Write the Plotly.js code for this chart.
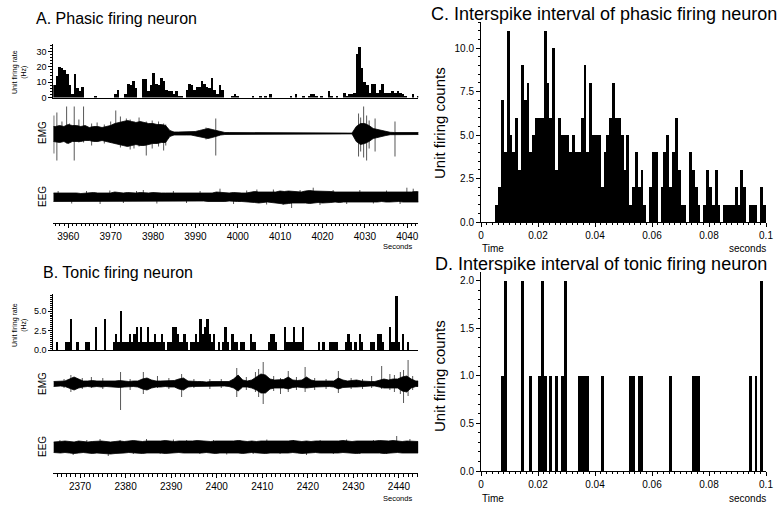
<!DOCTYPE html>
<html><head><meta charset="utf-8">
<script src="https://cdn.plot.ly/plotly-3.0.1.min.js"></script>
<style>html,body{margin:0;padding:0;background:#fff}#chart{width:783px;height:506px}</style>
</head><body><div id="chart"></div>
<script>
// ---------- Panel A: phasic firing neuron ----------
const histA_start = 3956.46, histA_bin = 0.6;
const histA_rate = [8,14,20,19,18,15,8,2,15,6,4,7, 0,0,0,0,1,0,0,0,0,0,0,0, 2,5,0,0,2,9,8,11,6,0,0,12,
  12,4,8,16,9,8,13,11,5,4,4,2, 4,1,1,0,5,9,8,5,7,7,11,9, 7,6,13,5,2,8,5,0,0,0,1,2, 1,0,0,0,0,0,1,0,0,1,0,1,
  0,2,0,0,0,0,0,0,0,1,0,2, 0,0,1,0,1,2,2,1,0,1,0,0, 4,1,0,1,0,0,3,1,2,2,3,28, 33,19,10,8,3,9,9,3,5,9,3,3,
  3,4,3,4,3,2,1,0,0,2,0,1];
const emgA_start = 3956.46, emgA_step = 1;
const emgA_hi = [7,8,7,9,8,8,7,8,6,7,7,6,7,8, 10,11,12,13,12,11,12,11,10,10,9,9,8, 3,1.5,1.5,1.5,1.5,1.5,2, 3,4,5,4,3,1.5,
  1,1,1,1,1,1,1,1,1,0.8,0.8, 0.4,0.4,0.4,0.4,0.4,0.4,0.4,0.4,0.4,0.4,0.4,0.4,0.4,0.4,0.4,0.4,0.4,0.4,0.4,0.4,
  7,10,10,8,5,4,3,2, 1.2,1,1,1.5,1,1,1,1];
const emgA_lo = [8,9,8,10,8,8,8,7,7,8,8,7,8,9, 10,11,12,13,12,11,12,12,11,10,10,9,9, 3,1.5,1.5,1.5,1.5,1.5,2, 3,4,5,4,3,1.5,
  1,1,1,1,1,1,1,1,1,0.8,0.8, 0.4,0.4,0.4,0.4,0.4,0.4,0.4,0.4,0.4,0.4,0.4,0.4,0.4,0.4,0.4,0.4,0.4,0.4,0.4,0.4,
  8,11,10,8,5,4,3,2, 1.2,1,1,1.5,1,1,1,1];
const emgA_spikeT  = [3956.6,3957.3,3958.5,3959.6,3960.3,3961.4,3962.5,3963.6,3965.5,3966.8,3968.5,3970.0,3971.2,3972.3,
  3973.7,3974.6,3975.5,3976.7,3978.4,3979.8,3981.3,3982.5,3983.0,3992.5,3994.8,4028.5,4029.0,4029.7,4030.4,4031.0,4032.4,4037.1];
const emgA_spikeUp = [18,21,12,27,10,27,14,27,10,11,9,12,23,17,15,14,12,16,12,13,12,10,9,6,15,20,16,27,18,13,15,12];
const emgA_spikeDn = [20,27,6,10,8,27,9,9,12,8,10,9,10,14,12,16,15,13,22,15,13,17,12,6,22,23,18,24,27,15,18,23];
const eegA_start = 3956.46, eegA_step = 1;
const eegA_hi = [4,4.5,4,4,4.5,4,3.5,4,4,4.5, 4,4,4.5,4,5,4.5,4,4.5,4,4, 4.5,4,4,4.5,4,4,4,4,4,4.5, 4,4,4.5,4,4,4.5,4,4,5,4.5,
  4,4,4.5,4,4,4,5,5.5,5,5, 5.5,5,5,6,5.5,6,5.5,5,5,6, 6.5,6,6,5.5,6,5.5,5,5,5,5, 4.5,4.5,4.5,5,4.5,4.5,5,4.5,4.5,5, 4.5,5,5,4.5,5,5.5,5];
const eegA_lo = [4.5,4,4.5,4.5,4,4.5,4,4.5,4,4, 4.5,4.5,4,4.5,4.5,4,4.5,4,4.5,4.5, 4,4.5,4.5,4,4.5,4,4.5,4,4.5,4, 4.5,4.5,4,4.5,4,4,4.5,4.5,5,4.5,
  4.5,4,4,4.5,4.5,5,5,5.5,6,5.5, 5,5.5,6,6.5,7,6.5,6,5.5,6,6, 6.5,6,5.5,6,6,5.5,5,5.5,5,5, 5,4.5,5,5,4.5,5,5,4.5,5,5, 5,4.5,5,5,5.5,5,5];
const eegA_spikeT  = [3957.6,3960.8,3964.3,3967.5,3969.8,3973.0,3976.1,3977.7,3980.9,3984.8,3987.9,3991.1,3995.8,3999.0,4002.1,
  4004.5,4006.8,4008.4,4010.7,4012.7,4014.7,4017.8,4019.4,4022.5,4025.7,4028.8,4032.0,4035.1,4038.3,4039.9,4041.4];
const eegA_spikeUp = [6,4,6,4,6.5,4,6,7,4,6,4,6,8.3,4,6.5,7.5,4,7.5,4,4,7,9.3,4,7,4,7,4,6.5,4,9.3,8.3];
const eegA_spikeDn = [4,6.5,4,7,4,6,4,4,6.5,4,6,4,4,7,4,4,7.5,4,8,11,4,4,8,4,7,4,6.5,4,7,4,4];
const axisA_ticks = [3960,3970,3980,3990,4000,4010,4020,4030,4040];

// ---------- Panel B: tonic firing neuron ----------
const histB_start = 2364.2, histB_bin = 0.5;
const histB_rate = [0,1,0,0,0,1,1,4,0,0, 1,0,0,0,1,1,0,0,3,0, 0,0,4,0,0,0,1,2,1,5, 1,1,1,2,1,2,3,1,3,1,
  1,3,1,1,2,1,1,2,1,0, 1,1,3,3,2,1,1,2,1,0, 1,1,2,1,4,2,3,4,2,1, 2,0,1,0,1,3,1,0,2,1,
  1,0,1,1,0,0,2,1,1,0, 0,0,0,0,1,2,2,1,0,0, 0,3,1,1,1,3,1,1,1,3, 0,0,0,0,0,0,1,0,1,0,
  0,1,1,1,1,0,0,0,1,2, 1,0,1,0,2,1,0,0,0,1, 1,0,2,2,1,0,0,3,1,1, 7,1,0,2,0,1,0,0];
const emgB_start = 2364.2, emgB_step = 1;
const emgB_hi = [2.5,2.5,3,5,7,5,3,3,3.5,3, 3,3,2.5,3,3.5,3,2.5,3,3,5, 6,4,3,3,3,3,3.5,5,6,3, 2.5,2.5,2.5,2,2.5,2.5,2,2.5,2.5,5,
  9,4,3,4,7,10,9,5,4,4, 4.5,7,4,3.5,4,7,4,3,3,2.5, 2.5,3,6,4,3,3.5,4,3,2.5,2.5, 2.5,4,5,4,5,5,7,8,5,3];
const emgB_lo = [2.5,2,2.5,4,6,4,3,2.5,3,2.5, 3,2.5,3,3,3.5,3,2.5,2.5,3,5, 6,4,3,3,2.5,3,3,5,6,3, 2.5,2,2.5,2,2,2.5,2,2,2.5,4,
  7,3,3,4,6,9,9,5,4,4, 4,5,3.5,3,3.5,4,3.5,3,2.5,2.5, 2.5,3,5,3.5,3,3,3,3,2.5,2, 2,3,4,4,4,4,7,8,4,2.5];
const emgB_spikeT  = [2366.5,2368.0,2370.5,2372.5,2375.0,2378.9,2381.0,2383.9,2387.0,2389.5,2392.3,2395.0,2398.5,2401.0,2404.4,
  2406.5,2408.5,2409.2,2410.2,2412.5,2414.0,2415.7,2417.5,2419.4,2421.5,2424.0,2426.7,2429.5,2432.0,2434.0,2436.2,2438.0,
  2439.0,2440.3,2441.0,2442.0,2443.0];
const emgB_spikeUp = [5,9,6,7,6,12,5,12,8,6,10,5,5,5,16,7,12,15,22,8,6,13,7,17,6,5,13,6,5,8,18,10,9,12,14,24,8];
const emgB_spikeDn = [4,8,5,4,5,26,6,10,4,5,13,4,5,4,13,6,8,13,20,7,10,8,6,8,6,5,9,5,5,4,5,6,8,10,19,12,6];
const eegB_start = 2364.2, eegB_step = 1;
const eegB_hi = [5,5.5,6,5.5,5,6,5.5,5,5.5,6, 6,5.5,5,5.5,6,5.5,6,6.5,6,5.5, 6,6,5.5,6,6.5,6,5.5,6,6,5.5, 6,6.5,6,6,5.5,6,6,5.5,6,6,
  6.5,6,5.5,6,5.5,6,6,5.5,6,5.5, 5.5,6,6.5,6,5.5,6,5.5,6,6,5.5, 5.5,6,6,6.5,6,5.5,6,6,5.5,6, 6,6.5,6,6,6.5,6,5.5,6,6,5.5];
const eegB_lo = [5.5,6,5.5,6,6.5,6,5.5,6,6.5,6, 6,6.5,7,6.5,6,6,5.5,6,6,6.5, 6,5.5,6,6,6.5,6,6,5.5,6,6, 6.5,6,6,5.5,6,6.5,6,6,5.5,6,
  6,6.5,6,5.5,6,6,6.5,6,6,5.5, 6,6,5.5,6,6.5,6,6,5.5,6,6, 6.5,6,6,5.5,6,6,6.5,6,6,5.5, 6,6,6.5,6,6,5.5,6,6.5,6,6];
const eegB_spikeT  = [2365.6,2368.5,2371.5,2374.4,2376.2,2378.8,2381.7,2384.6,2387.6,2390.5,2393.4,2396.3,2399.3,2402.2,
  2405.1,2408.0,2411.0,2413.9,2416.8,2419.7,2422.7,2425.6,2428.5,2431.4,2434.4,2437.3,2439.5,2442.4];
const eegB_spikeUp = [7,5,7,8,5,7,5,8,5,7.5,7,5,7,5,7,5,7.5,5,7,5,7,5,7.5,5,7,5,11,8];
const eegB_spikeDn = [5,8,5,5,9,5,7,5,7,5,5,7,5,7.5,5,7,5,7,5,8,5,7,5,7,5,7,5,5];

// ---------- Panels C / D: interspike interval histograms ----------
const isi_bin = 0.001;
const isiC_counts = [0,0,0,0,0,1,2,7,4,11, 5,4,6,3,9,7,8,4,5,6, 6,6,11,8,6,10,3,6,5,5, 5,4,5,4,4,6,9,4,8,5,
  5,5,2,4,5,6,8,6,6,5, 3,5,1,2,4,2,3,1,0,2, 4,4,0,2,4,5,2,4,6,3, 1,1,0,4,3,2,1,0,1,3,
  2,1,3,1,0,1,1,1,1,2, 1,3,2,0,1,1,1,0,2,1];
const isiD_counts = [0,0,0,0,0,0,0,1,2,0, 0,0,0,0,2,0,0,1,0,0, 1,2,1,0,1,0,1,0,1,2, 0,0,0,0,1,1,1,1,0,0,
  0,0,1,0,0,0,0,0,0,0, 0,0,1,1,0,1,1,0,0,0, 0,0,0,0,0,0,1,0,0,0, 0,0,0,0,1,1,1,0,0,0,
  0,0,0,0,0,0,0,0,0,0, 0,0,0,0,1,0,1,0,2,0];

// ---------- helpers ----------
const W = 783, H = 506;
const F = 'Liberation Sans, Arial, Helvetica, sans-serif';
const px = x => x / W, py = y => 1 - y / H;
const centers = (start, step, n) => Array.from({length: n}, (_, i) => start + (i + 0.5) * step);
// envelope polygon: upper edge forward, lower edge back
function band(start, step, hi, lo) {
  const t = centers(start, step, hi.length);
  const end = start + hi.length * step;
  const x = [start].concat(t, [end, end], t.slice().reverse(), [start]);
  const y = [hi[0]].concat(hi, [hi[hi.length - 1], -lo[lo.length - 1]], lo.map(v => -v).reverse(), [-lo[0]]);
  return {x, y};
}
function spikeLines(t, up, dn) {
  const x = [], y = [];
  t.forEach((v, i) => { x.push(v, v, null); y.push(up[i], -dn[i], null); });
  return {x, y};
}
function barTrace(x, y, w, xa, ya) {
  return {type: 'bar', x, y, width: w, xaxis: xa, yaxis: ya, marker: {color: '#000', line: {width: 0}}, hoverinfo: 'skip'};
}
function lineTrace(d, xa, ya, color, w) {
  return {type: 'scatter', mode: 'lines', x: d.x, y: d.y, xaxis: xa, yaxis: ya, connectgaps: false,
    line: {color, width: w}, hoverinfo: 'skip'};
}
function bandTrace(d, xa, ya) {
  return {type: 'scatter', mode: 'lines', x: d.x, y: d.y, xaxis: xa, yaxis: ya, fill: 'toself',
    fillcolor: '#000', line: {color: '#000', width: 0.8}, hoverinfo: 'skip'};
}

const traces = [
  barTrace(centers(histA_start, histA_bin, histA_rate.length), histA_rate, histA_bin, 'x', 'y'),
  lineTrace(spikeLines(emgA_spikeT, emgA_spikeUp, emgA_spikeDn), 'x2', 'y2', '#444', 0.9),
  bandTrace(band(emgA_start, emgA_step, emgA_hi, emgA_lo), 'x2', 'y2'),
  lineTrace(spikeLines(eegA_spikeT, eegA_spikeUp, eegA_spikeDn), 'x3', 'y3', '#444', 0.9),
  bandTrace(band(eegA_start, eegA_step, eegA_hi, eegA_lo), 'x3', 'y3'),
  barTrace(centers(histB_start, histB_bin, histB_rate.length), histB_rate, histB_bin, 'x4', 'y4'),
  lineTrace(spikeLines(emgB_spikeT, emgB_spikeUp, emgB_spikeDn), 'x5', 'y5', '#444', 0.9),
  bandTrace(band(emgB_start, emgB_step, emgB_hi, emgB_lo), 'x5', 'y5'),
  lineTrace(spikeLines(eegB_spikeT, eegB_spikeUp, eegB_spikeDn), 'x6', 'y6', '#444', 0.9),
  bandTrace(band(eegB_start, eegB_step, eegB_hi, eegB_lo), 'x6', 'y6'),
  barTrace(centers(0, isi_bin, isiC_counts.length), isiC_counts, isi_bin, 'x7', 'y7'),
  barTrace(centers(0, isi_bin, isiD_counts.length), isiD_counts, isi_bin, 'x8', 'y8')
];

const base = {showgrid: false, zeroline: false, linecolor: '#000', linewidth: 1, tickcolor: '#000',
  tickfont: {family: F, size: 10, color: '#000'}, fixedrange: true};
const hidden = {visible: false, showgrid: false, zeroline: false, fixedrange: true};
const domL = [px(53.3), px(418.3)], domR = [px(481), px(766)];

const layout = {
  width: W, height: H, margin: {l: 0, r: 0, t: 0, b: 0}, showlegend: false,
  paper_bgcolor: '#fff', plot_bgcolor: 'rgba(0,0,0,0)', bargap: 0, font: {family: F, color: '#000'},
  // A
  xaxis: Object.assign({}, base, {domain: domL, range: [3956.46, 4042.6], anchor: 'y', showline: true, ticks: '', showticklabels: false}),
  yaxis: Object.assign({}, base, {domain: [py(97.5), py(44.3)], range: [0, 34.6], anchor: 'x', showline: true,
    tick0: 0, dtick: 10, ticks: 'outside', ticklen: 4, tickfont: {family: F, size: 9, color: '#000'},
    minor: {dtick: 2, ticklen: 2, ticks: 'outside', tickcolor: '#000'}}),
  xaxis2: Object.assign({}, hidden, {domain: domL, range: [3956.46, 4042.6], anchor: 'y2'}),
  yaxis2: Object.assign({}, hidden, {domain: [py(163), py(104)], range: [-29.5, 29.5], anchor: 'x2'}),
  xaxis3: Object.assign({}, base, {domain: domL, range: [3956.46, 4042.6], anchor: 'free', position: py(222.7), showline: true,
    tickmode: 'array', tickvals: axisA_ticks, ticks: 'outside', ticklen: 4,
    minor: {dtick: 1, tick0: 3960, ticklen: 2.5, ticks: 'outside', tickcolor: '#000'}}),
  yaxis3: Object.assign({}, hidden, {domain: [py(211), py(183)], range: [-14, 14], anchor: 'x3'}),
  // B
  xaxis4: Object.assign({}, base, {domain: domL, range: [2364.14, 2444.24], anchor: 'y4', showline: true, ticks: '', showticklabels: false}),
  yaxis4: Object.assign({}, base, {domain: [py(350), py(294)], range: [0, 7.2], anchor: 'x4', showline: true,
    tick0: 0, dtick: 2.5, tickformat: '.1f', ticks: 'outside', ticklen: 4, tickfont: {family: F, size: 9, color: '#000'},
    minor: {dtick: 0.25, ticklen: 2, ticks: 'outside', tickcolor: '#000'}}),
  xaxis5: Object.assign({}, hidden, {domain: domL, range: [2364.14, 2444.24], anchor: 'y5'}),
  yaxis5: Object.assign({}, hidden, {domain: [py(412), py(356)], range: [-28, 28], anchor: 'x5'}),
  xaxis6: Object.assign({}, base, {domain: domL, range: [2364.14, 2444.24], anchor: 'free', position: py(473), showline: true,
    tick0: 2370, dtick: 10, ticks: 'outside', ticklen: 4,
    minor: {dtick: 1, tick0: 2370, ticklen: 2.5, ticks: 'outside', tickcolor: '#000'}}),
  yaxis6: Object.assign({}, hidden, {domain: [py(462), py(432)], range: [-15, 15], anchor: 'x6'}),
  // C
  xaxis7: Object.assign({}, base, {domain: domR, range: [0, 0.1], anchor: 'y7', showline: true,
    tick0: 0, dtick: 0.02, ticks: 'outside', ticklen: 4, minor: {dtick: 0.002, ticklen: 2, ticks: 'outside', tickcolor: '#000'}}),
  yaxis7: Object.assign({}, base, {domain: [py(222), py(22)], range: [0, 11.5], anchor: 'x7', showline: true,
    tick0: 0, dtick: 2.5, tickformat: '.1f', ticks: 'outside', ticklen: 4, minor: {dtick: 0.5, ticklen: 2, ticks: 'outside', tickcolor: '#000'}}),
  // D
  xaxis8: Object.assign({}, base, {domain: domR, range: [0, 0.1], anchor: 'y8', showline: true,
    tick0: 0, dtick: 0.02, ticks: 'outside', ticklen: 4, minor: {dtick: 0.002, ticklen: 2, ticks: 'outside', tickcolor: '#000'}}),
  yaxis8: Object.assign({}, base, {domain: [py(471), py(272)], range: [0, 2.09], anchor: 'x8', showline: true,
    tick0: 0, dtick: 0.5, tickformat: '.1f', ticks: 'outside', ticklen: 4, minor: {dtick: 0.1, ticklen: 2, ticks: 'outside', tickcolor: '#000'}}),
  annotations: []
};

function ann(text, x, y, size, opts) {
  layout.annotations.push(Object.assign({text, x: px(x), y: py(y), xref: 'paper', yref: 'paper', showarrow: false,
    xanchor: 'left', yanchor: 'middle', font: {family: F, size, color: '#000'}}, opts || {}));
}
ann('A. Phasic firing neuron', 34, 18, 16);
ann('B. Tonic firing neuron', 41, 272, 16);
ann('C. Interspike interval of phasic firing neuron', 429, 14, 18);
ann('D. Interspike interval of tonic firing neuron', 433, 264, 18);
ann('Unit firing rate<br>(Hz)', 19, 72, 7, {xanchor: 'center', textangle: -90});
ann('Unit firing rate<br>(Hz)', 19, 325, 7, {xanchor: 'center', textangle: -90});
ann('EMG', 42, 133, 10, {xanchor: 'center', textangle: -90});
ann('EEG', 42, 197, 10, {xanchor: 'center', textangle: -90});
ann('EMG', 42, 384, 10, {xanchor: 'center', textangle: -90});
ann('EEG', 42, 447, 10, {xanchor: 'center', textangle: -90});
ann('Seconds', 397, 246, 7.5, {xanchor: 'center'});
ann('Seconds', 397, 498, 7.5, {xanchor: 'center'});
ann('Unit firing counts', 439, 123, 15, {xanchor: 'center', textangle: -90});
ann('Unit firing counts', 439, 376, 15, {xanchor: 'center', textangle: -90});
ann('Time', 493, 248, 10, {xanchor: 'center'});
ann('seconds', 747, 248, 10, {xanchor: 'center'});
ann('Time', 493, 498, 10, {xanchor: 'center'});
ann('seconds', 747, 498, 10, {xanchor: 'center'});

Plotly.newPlot('chart', traces, layout, {displayModeBar: false, staticPlot: true});
</script></body></html>
